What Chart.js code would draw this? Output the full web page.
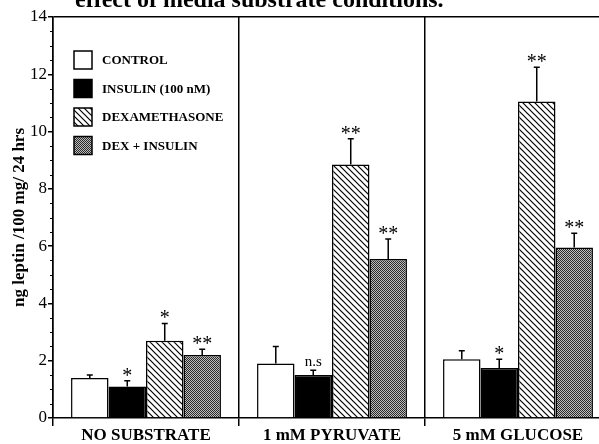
<!DOCTYPE html>
<html>
<head>
<meta charset="utf-8">
<script src="https://cdn.jsdelivr.net/npm/chart.js@4.4.1/dist/chart.umd.min.js"></script>
<style>
  html, body { margin: 0; padding: 0; background: #fff; overflow: hidden; }
  #wrap { width: 615px; height: 444px; }
</style>
</head>
<body>
<div id="wrap"><canvas id="leptinChart" width="615" height="444"></canvas></div>
<script>
// data
var groups = ["NO SUBSTRATE", "1 mM PYRUVATE", "5 mM GLUCOSE"];
var seriesNames = ["CONTROL", "INSULIN (100 nM)", "DEXAMETHASONE", "DEX + INSULIN"];
var control = [1.4, 1.9, 2.05];
var insulin = [1.1, 1.5, 1.75];
var dexa = [2.7, 8.85, 11.05];
var dexIns = [2.2, 5.55, 5.95];
var controlErr = [0.1, 0.6, 0.3];
var insulinErr = [0.2, 0.17, 0.3];
var dexaErr = [0.6, 0.9, 1.2];
var dexInsErr = [0.2, 0.7, 0.5];
var controlSig = ["", "", ""];
var insulinSig = ["*", "n.s", "*"];
var dexaSig = ["*", "**", "**"];
var dexInsSig = ["**", "**", "**"];
var yTicks = [0, 2, 4, 6, 8, 10, 12, 14];

var serif = "'Liberation Serif', 'DejaVu Serif', serif";

function hatchPattern() {
    var c = document.createElement("canvas");
    c.width = 6; c.height = 6;
    var g = c.getContext("2d");
    g.fillStyle = "#fff";
    g.fillRect(0, 0, 6, 6);
    g.strokeStyle = "#000";
    g.lineWidth = 1.2;
    g.beginPath();
    g.moveTo(-1, -1); g.lineTo(7, 7);
    g.moveTo(-1, 5); g.lineTo(1, 7);
    g.moveTo(5, -1); g.lineTo(7, 1);
    g.stroke();
    return g.createPattern(c, "repeat");
}

function stipplePattern() {
    var c = document.createElement("canvas");
    c.width = 2; c.height = 2;
    var g = c.getContext("2d");
    g.fillStyle = "#bdbdbd";
    g.fillRect(0, 0, 2, 2);
    g.fillStyle = "#2a2a2a";
    g.fillRect(0, 0, 1, 1);
    g.fillRect(1, 1, 1, 1);
    return g.createPattern(c, "repeat");
}

var fills = ["#ffffff", "#000000", hatchPattern(), stipplePattern()];
var values = [control, insulin, dexa, dexIns];
var errs = [controlErr, insulinErr, dexaErr, dexInsErr];
var sigs = [controlSig, insulinSig, dexaSig, dexInsSig];

var datasets = [];
for (var i = 0; i < 4; i++) {
    datasets.push({
        label: seriesNames[i],
        data: values[i],
        err: errs[i],
        sig: sigs[i],
        backgroundColor: fills[i],
        borderColor: "#000",
        borderWidth: 1.5,
        borderSkipped: "bottom",
        categoryPercentage: 0.806,
        barPercentage: 1.0
    });
}

// error bars, significance marks, minor ticks, legend, title
var extras = {
    id: "extras",
    afterDatasetsDraw: function (chart) {
        var ctx = chart.ctx;
        var y = chart.scales.y;
        var area = chart.chartArea;
        ctx.save();
        ctx.strokeStyle = "#000";
        ctx.fillStyle = "#000";
        chart.data.datasets.forEach(function (ds, di) {
            var meta = chart.getDatasetMeta(di);
            meta.data.forEach(function (bar, j) {
                var top = y.getPixelForValue(ds.data[j] + ds.err[j]);
                ctx.lineWidth = 1.5;
                ctx.beginPath();
                ctx.moveTo(bar.x, bar.y);
                ctx.lineTo(bar.x, top);
                ctx.moveTo(bar.x - 3, top);
                ctx.lineTo(bar.x + 3, top);
                ctx.stroke();
                var s = ds.sig[j];
                if (s) {
                    ctx.textAlign = "center";
                    ctx.textBaseline = "alphabetic";
                    if (s === "n.s") {
                        ctx.font = "15px " + serif;
                        ctx.fillText(s, bar.x, top - 4);
                    } else {
                        ctx.font = "20px " + serif;
                        ctx.fillText(s, bar.x, top + 1);
                    }
                }
            });
        });

        // minor ticks every 0.5
        ctx.lineWidth = 1;
        ctx.beginPath();
        for (var v = 0.5; v < 14; v += 0.5) {
            if (v % 2 === 0) continue;
            var py = Math.round(y.getPixelForValue(v)) + 0.5;
            ctx.moveTo(area.left - 3, py);
            ctx.lineTo(area.left, py);
        }
        ctx.stroke();

        // legend
        var lx = 74, ly = 60, step = 28.5, box = 18;
        ctx.lineWidth = 1.5;
        chart.data.datasets.forEach(function (ds, di) {
            var cy = ly + di * step;
            ctx.fillStyle = ds.backgroundColor;
            ctx.fillRect(lx, cy - box / 2, box, box);
            ctx.strokeRect(lx, cy - box / 2, box, box);
            ctx.fillStyle = "#000";
            ctx.font = "bold 13px " + serif;
            ctx.textAlign = "left";
            ctx.textBaseline = "middle";
            ctx.fillText(ds.label, 102, cy + 1);
        });

        // cut-off title
        ctx.font = "bold 24px " + serif;
        ctx.textAlign = "left";
        ctx.textBaseline = "alphabetic";
        ctx.fillText("effect of media substrate conditions.", 75, 7);
        ctx.restore();
    }
};

var ctx = document.getElementById("leptinChart").getContext("2d");

var leptinChart = new Chart(ctx, {
    type: "bar",
    data: { labels: groups, datasets: datasets },
    options: {
        responsive: false,
        animation: false,
        layout: { padding: { top: 17, right: 4, left: 0, bottom: 0 } },
        plugins: { legend: { display: false }, tooltip: { enabled: false } },
        scales: {
            x: {
                grid: {
                    offset: true,
                    color: "#000",
                    lineWidth: 1.5,
                    tickLength: 8,
                    tickColor: "#000"
                },
                border: { color: "#000", width: 1.5 },
                ticks: {
                    color: "#000",
                    font: { family: serif, size: 17, weight: "bold" },
                    padding: -1
                },
                afterFit: function (s) { s.height = 26; }
            },
            y: {
                min: 0,
                max: 14,
                afterBuildTicks: function (s) {
                    s.ticks = yTicks.map(function (v) { return { value: v }; });
                },
                grid: {
                    color: function (c) { return c.tick && c.tick.value === 14 ? "#000" : "rgba(0,0,0,0)"; },
                    lineWidth: 1.5,
                    tickLength: 5,
                    tickColor: "#000"
                },
                border: { color: "#000", width: 1.5 },
                ticks: {
                    color: "#000",
                    font: { family: serif, size: 17 },
                    padding: 1
                },
                title: {
                    display: true,
                    text: "ng leptin /100 mg/ 24 hrs",
                    color: "#000",
                    font: { family: serif, size: 17, weight: "bold" },
                    padding: { top: 9, bottom: 0 }
                },
                afterFit: function (s) { s.width = 53; }
            }
        }
    },
    plugins: [extras]
});
</script>
</body>
</html>
